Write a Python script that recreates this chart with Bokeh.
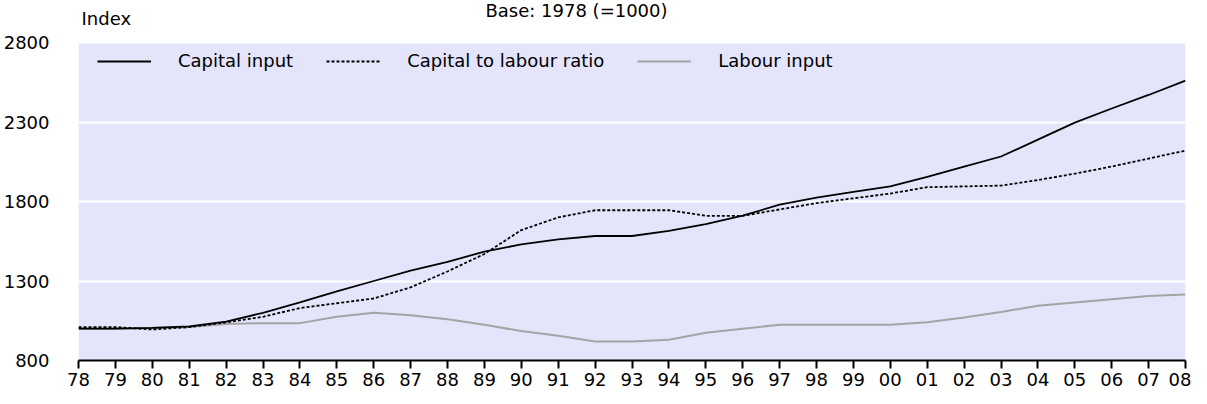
from bokeh.plotting import figure
from bokeh.models import (ColumnDataSource, FixedTicker, Legend, LegendItem, Label,
                          Range1d, BoxAnnotation)
from bokeh.embed import file_html
from bokeh.resources import INLINE

# ---- data ----
years = list(range(1978, 2009))
tick_labels = ["78", "79", "80", "81", "82", "83", "84", "85", "86", "87", "88", "89",
               "90", "91", "92", "93", "94", "95", "96", "97", "98", "99", "00", "01",
               "02", "03", "04", "05", "06", "07", "08"]
capital_input = [1000, 1000, 1005, 1015, 1045, 1100, 1165, 1235, 1300, 1365, 1420,
                 1485, 1530, 1562, 1583, 1583, 1615, 1657, 1711, 1780, 1825, 1860,
                 1895, 1955, 2019, 2083, 2189, 2296, 2385, 2470, 2560]
capital_to_labour = [1010, 1010, 995, 1010, 1040, 1075, 1130, 1160, 1190, 1260, 1360,
                     1470, 1620, 1700, 1745, 1745, 1745, 1710, 1710, 1750, 1790, 1820,
                     1850, 1890, 1895, 1900, 1935, 1975, 2020, 2070, 2120]
labour_input = [1000, 1000, 1005, 1010, 1030, 1035, 1035, 1075, 1100, 1085, 1060,
                 1025, 985, 955, 920, 920, 930, 975, 1000, 1025, 1025, 1025, 1025,
                 1040, 1070, 1105, 1145, 1165, 1185, 1205, 1215]
y_ticks = [800, 1300, 1800, 2300, 2800]
title_text = "Base: 1978 (=1000)"
y_title = "Index"

src = ColumnDataSource(dict(year=years, cap=capital_input, ratio=capital_to_labour,
                            lab=labour_input))

FONT = "DejaVu Sans"
FS = "18px"

# frame spans the full height above the x axis; the shaded plot area covers 800..2800
FRAME_H = 360
AREA_H = 318
y_lo, y_hi = y_ticks[0], y_ticks[-1]
y_top = y_lo + (y_hi - y_lo) * FRAME_H / AREA_H

p = figure(width=1191, height=388, output_backend="svg", toolbar_location=None,
           x_range=Range1d(years[0], years[-1]), y_range=Range1d(y_lo, y_top),
           min_border_left=75, min_border_right=6, min_border_top=0,
           min_border_bottom=28)
p.background_fill_color = "white"
p.border_fill_color = "white"
p.outline_line_color = None

p.add_layout(BoxAnnotation(bottom=y_lo, top=y_hi, fill_color="#E4E4FA", fill_alpha=1,
                           line_color="#F2F2FF", line_width=1, level="image"))

p.xgrid.visible = False
p.ygrid.grid_line_color = "white"
p.ygrid.grid_line_width = 2

p.xaxis.ticker = FixedTicker(ticks=years)
p.xaxis.major_label_overrides = {y: t for y, t in zip(years, tick_labels)}
p.xaxis.axis_line_color = "black"
p.xaxis.axis_line_width = 2
p.xaxis.major_tick_line_color = "black"
p.xaxis.major_tick_line_width = 2
p.xaxis.major_tick_in = 0
p.xaxis.major_tick_out = 8
p.xaxis.minor_tick_line_color = None
p.xaxis.major_label_text_font = FONT
p.xaxis.major_label_text_font_size = FS
p.xaxis.major_label_text_color = "black"
p.xaxis.major_label_standoff = 4

p.yaxis.ticker = FixedTicker(ticks=y_ticks)
p.yaxis.axis_line_color = None
p.yaxis.major_tick_line_color = None
p.yaxis.minor_tick_line_color = None
p.yaxis.major_label_text_font = FONT
p.yaxis.major_label_text_font_size = FS
p.yaxis.major_label_text_color = "black"
p.yaxis.major_label_standoff = 23

r_lab = p.line("year", "lab", source=src, line_color="#A4A4A4", line_width=2)
r_ratio = p.line("year", "ratio", source=src, line_color="black", line_width=1.8,
                 line_dash="3 2")
r_cap = p.line("year", "cap", source=src, line_color="black", line_width=1.8)

legend = Legend(items=[LegendItem(label="Capital input", renderers=[r_cap]),
                       LegendItem(label="Capital to labour ratio", renderers=[r_ratio]),
                       LegendItem(label="Labour input", renderers=[r_lab])],
                orientation="horizontal", location=(19, 289),
                background_fill_alpha=0, border_line_color=None,
                glyph_width=54, glyph_height=20, label_standoff=27, spacing=33,
                label_text_font=FONT, label_text_font_size=FS,
                label_text_color="black", margin=0, padding=0)
p.add_layout(legend)

p.add_layout(Label(x=3, y=342, x_units="screen", y_units="screen",
                   text=y_title, text_font=FONT, text_font_size=FS, text_color="black",
                   text_align="left", text_baseline="middle"))
p.add_layout(Label(x=498, y=350, x_units="screen", y_units="screen",
                   text=title_text, text_font=FONT, text_font_size=FS, text_color="black",
                   text_align="center", text_baseline="middle"))

open("out.html", "w").write(file_html(p, INLINE))
